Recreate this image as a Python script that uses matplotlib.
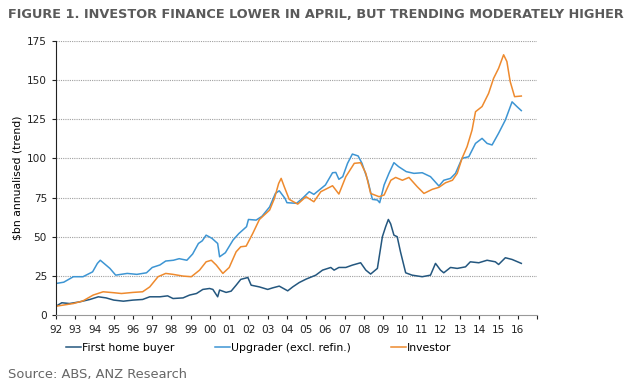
import matplotlib.pyplot as plt
import numpy as np

# values ($bn annualised, trend)
fhb_t = [1992.0, 1992.3, 1992.7, 1993.24, 1993.76, 1994.2, 1994.6, 1995.0, 1995.5, 1996.0,
         1996.5, 1996.87, 1997.4, 1997.8, 1998.08, 1998.6, 1998.94, 1999.3, 1999.63, 1999.98,
         2000.15, 2000.4, 2000.5, 2000.84, 2001.1, 2001.36, 2001.6, 2001.97, 2002.14, 2002.57,
         2003.0, 2003.26, 2003.6, 2004.04, 2004.3, 2004.64, 2005.0, 2005.5, 2005.85, 2006.28,
         2006.45, 2006.7, 2007.06, 2007.4, 2007.83, 2008.1, 2008.35, 2008.7, 2008.96, 2009.13,
         2009.27, 2009.39, 2009.56, 2009.73, 2009.9, 2010.17, 2010.5, 2011.03, 2011.46, 2011.72,
         2011.98, 2012.15, 2012.5, 2012.85, 2013.28, 2013.53, 2013.97, 2014.4, 2014.83, 2015.0,
         2015.35, 2015.7, 2016.18]
fhb_v = [5.7, 7.9, 7.4, 8.5, 10.0, 11.7, 11.0, 9.6, 8.9, 9.6,
         10.0, 11.7, 11.7, 12.3, 10.6, 11.0, 12.8, 13.8, 16.4, 17.0,
         16.4, 11.7, 16.0, 14.5, 15.3, 19.1, 22.8, 24.0, 19.1, 18.0,
         16.4, 17.4, 18.5, 15.5, 18.0, 20.8, 23.0, 25.5, 28.7, 30.4,
         28.7, 30.4, 30.4, 31.9, 33.4, 28.7, 26.2, 29.8, 50.0, 56.4,
         61.0, 58.2, 51.0, 50.0, 40.4, 27.0, 25.5, 24.5, 25.5, 33.0,
         28.7, 27.0, 30.4, 29.8, 30.8, 34.0, 33.4, 35.0, 34.0, 32.3,
         36.6, 35.5, 33.0]

upg_t = [1992.0, 1992.4, 1992.9, 1993.4, 1993.9, 1994.15, 1994.3, 1994.8, 1995.1, 1995.7,
         1996.2, 1996.7, 1997.0, 1997.4, 1997.7, 1998.1, 1998.4, 1998.8, 1999.1, 1999.4,
         1999.6, 1999.8, 2000.1, 2000.4, 2000.5, 2000.8, 2001.2, 2001.5, 2001.9, 2002.0,
         2002.4, 2002.7, 2003.1, 2003.4, 2003.6, 2003.9, 2004.0, 2004.5, 2004.8, 2005.16,
         2005.4, 2006.0, 2006.37, 2006.54, 2006.7, 2006.9, 2007.15, 2007.4, 2007.7, 2007.9,
         2008.2, 2008.44, 2008.7, 2008.82, 2009.05, 2009.3, 2009.56, 2009.8, 2010.2, 2010.6,
         2011.03, 2011.46, 2011.9, 2012.15, 2012.5, 2012.76, 2013.1, 2013.45, 2013.8, 2014.14,
         2014.4, 2014.66, 2015.0, 2015.35, 2015.7, 2015.95, 2016.18]
upg_v = [20.2, 21.0, 24.5, 24.5, 27.6, 33.0, 35.0, 29.8, 25.5, 26.6,
         26.0, 27.0, 30.4, 32.0, 34.5, 35.0, 36.0, 35.0, 39.0, 45.7,
         47.4, 51.0, 49.0, 45.7, 37.2, 39.8, 47.9, 52.0, 56.4, 61.0,
         60.6, 63.0, 69.0, 77.6, 79.3, 74.4, 71.7, 71.3, 74.4, 78.7,
         77.0, 83.0, 90.8, 91.0, 86.6, 88.3, 96.8, 102.7, 101.5, 96.8,
         86.0, 73.8, 73.4, 71.7, 83.0, 90.4, 97.2, 94.7, 91.5, 90.4,
         90.8, 88.3, 82.3, 86.0, 87.2, 90.4, 100.0, 101.0, 109.5, 112.7,
         109.5, 108.5, 116.0, 124.4, 136.0, 133.0, 130.4]

inv_t = [1992.0, 1992.9, 1993.4, 1993.93, 1994.45, 1995.0, 1995.4, 1996.0, 1996.5, 1996.87,
         1997.3, 1997.7, 1998.08, 1998.6, 1999.03, 1999.46, 1999.8, 2000.07, 2000.33, 2000.67,
         2001.0, 2001.36, 2001.6, 2001.88, 2002.22, 2002.57, 2003.1, 2003.35, 2003.57, 2003.7,
         2003.86, 2004.12, 2004.56, 2004.99, 2005.4, 2005.76, 2006.37, 2006.7, 2007.06, 2007.5,
         2007.83, 2008.1, 2008.35, 2008.79, 2009.05, 2009.4, 2009.65, 2010.0, 2010.34, 2010.77,
         2011.12, 2011.55, 2011.9, 2012.24, 2012.6, 2012.85, 2013.1, 2013.36, 2013.62, 2013.8,
         2014.14, 2014.48, 2014.74, 2015.0, 2015.26, 2015.43, 2015.6, 2015.83, 2016.18]
inv_v = [5.7, 7.4, 9.1, 12.8, 14.9, 14.3, 13.8, 14.5, 14.9, 18.0,
         24.5, 26.6, 26.0, 24.9, 24.5, 28.7, 34.0, 35.0, 31.9, 26.6,
         30.4, 40.4, 43.6, 44.0, 52.0, 61.0, 67.0, 74.4, 84.0, 87.2,
         81.9, 73.8, 70.8, 75.5, 72.3, 78.7, 82.5, 77.2, 88.3, 96.8,
         97.2, 90.4, 77.6, 75.5, 76.6, 86.0, 87.8, 86.0, 87.8, 81.9,
         77.6, 80.2, 81.5, 84.4, 86.0, 90.4, 100.0, 107.4, 118.0, 129.7,
         133.0, 141.4, 151.0, 157.4, 166.0, 161.7, 149.0, 139.3, 139.7]

year_ticks = list(range(1992, 2018))
year_labels = ['%02d' % (y % 100) for y in range(1992, 2017)] + ['']
y_ticks = [0, 25, 50, 75, 100, 125, 150, 175]

c_fhb = '#24577f'
c_upg = '#3d95d3'
c_inv = '#ee8a2e'

fig = plt.figure(figsize=(6.44, 3.91), dpi=100)
ax = fig.add_axes([0.087, 0.194, 0.747, 0.702])

ax.plot(fhb_t, fhb_v, color=c_fhb, lw=1.1, label='First home buyer')
ax.plot(upg_t, upg_v, color=c_upg, lw=1.1, label='Upgrader (excl. refin.)')
ax.plot(inv_t, inv_v, color=c_inv, lw=1.1, label='Investor')

ax.set_xlim(1992, 2017)
ax.set_ylim(0, 175)
ax.set_yticks(y_ticks)
ax.set_xticks(year_ticks)
ax.set_xticklabels(year_labels)
ax.tick_params(axis='both', labelsize=7.6, length=3, width=0.8, colors='#222222')
ax.tick_params(axis='x', pad=4)

for y in y_ticks[1:]:
    ax.axhline(y, color='#a0a0a0', lw=0.8, ls=(0, (1, 1)), zorder=0)

for s in ['top', 'right']:
    ax.spines[s].set_visible(False)
ax.spines['left'].set_color('#222222')
ax.spines['bottom'].set_color('#999999')

ax.set_ylabel('$bn annualised (trend)', fontsize=7.8, labelpad=3)

ax.legend(loc='upper left', bbox_to_anchor=(0.012, -0.085), ncol=3, frameon=False,
          fontsize=7.8, handlelength=1.4, handletextpad=0.1, columnspacing=3.7,
          borderaxespad=0)

fig.text(0.012, 0.962, 'FIGURE 1. INVESTOR FINANCE LOWER IN APRIL, BUT TRENDING MODERATELY HIGHER',
         fontsize=9.25, fontweight='bold', color='#5a5a5a', va='center')
fig.text(0.012, 0.042, 'Source: ABS, ANZ Research', fontsize=9.4, color='#666666', va='center')

fig.savefig('out.png', dpi=100)
